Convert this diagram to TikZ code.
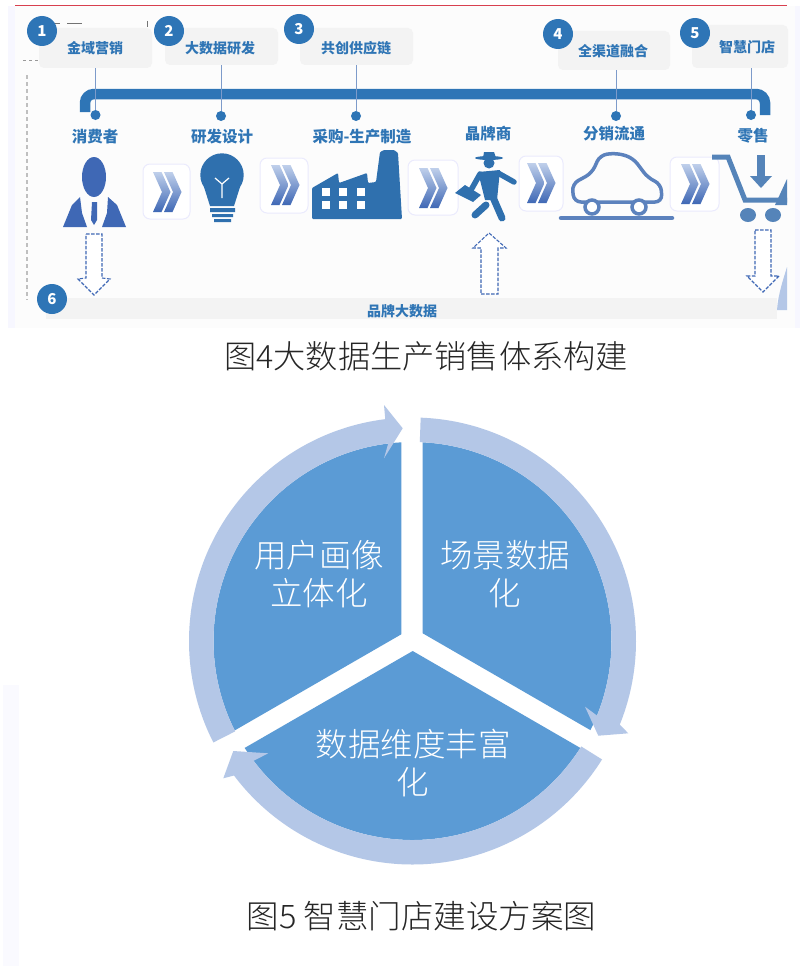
\documentclass[tikz,border=0pt]{standalone}
\usepackage{fontspec}
\setmainfont{Noto Sans CJK SC}
\newfontfamily\lightf{Noto Sans CJK SC Light}
\usetikzlibrary{calc}
\definecolor{mainblue}{HTML}{2E75B6}
\definecolor{iconblue}{HTML}{2F70AE}
\definecolor{personblue}{HTML}{3F68B5}
\definecolor{carblue}{HTML}{5C82BD}
\definecolor{cartblue}{HTML}{5584B9}
\definecolor{labelgray}{HTML}{F3F3F3}
\definecolor{sector}{HTML}{5B9BD5}
\definecolor{ringc}{HTML}{B4C7E7}
\definecolor{textblue}{HTML}{2F75B5}
\definecolor{topred}{HTML}{D8404F}
\tikzset{
  lbox/.style={fill=labelgray,rounded corners=5pt,inner sep=0pt},
  lboxtext/.style={text=textblue,font=\bfseries\fontsize{14}{14}\selectfont,inner sep=0pt},
  stagetext/.style={text=textblue,font=\bfseries\fontsize{15.5}{15.5}\selectfont,inner sep=0pt},
  numc/.style={circle,fill=mainblue,text=white,minimum size=30pt,inner sep=0pt,font=\bfseries\fontsize{15}{15}\selectfont},
  dotn/.style={circle,fill=mainblue,minimum size=10pt,inner sep=0pt},
  stem/.style={draw=carblue!80,line width=1pt},
  dasharrow/.style={draw=personblue,fill=white,line width=1.1pt,dash pattern=on 3.5pt off 1.5pt},
  chevbox/.style={draw=black!10!blue!8!white,fill=white,rounded corners=7pt,line width=1pt,inner sep=0pt},
  captiontext/.style={text=black!85,inner sep=0pt},
  sectortext/.style={text=white,align=center,inner sep=0pt,font=\lightf\fontsize{32.5}{38}\selectfont},
}
\newcommand{\chevs}[2]{%
  \begin{scope}[shift={(#1,#2)}]
    \shade[top color=ringc!85!white,bottom color=personblue] (-15,-20) -- (-6.5,-20) -- (2.5,0) -- (-6.5,20) -- (-15,20) -- (-6,0) -- cycle;
    \shade[top color=ringc!85!white,bottom color=personblue] (-4,-20) -- (4.5,-20) -- (13.5,0) -- (4.5,20) -- (-4,20) -- (5,0) -- cycle;
  \end{scope}}
\begin{document}
\begin{tikzpicture}[x=1pt,y=1pt,yscale=-1]
\useasboundingbox (0,0) rectangle (805,966);
\fill[white] (0,0) rectangle (805,966);
% panel
\fill[blue!3!white] (8,6) rectangle (800,328);
\fill[black!1!white] (15,6) rectangle (795,328);
\fill[blue!2!white] (3,685) rectangle (19,966);
\draw[topred,line width=1.3pt] (15,5.7) -- (787,5.7);
% scribbles
\draw[black!55,line width=.6pt] (30,23) -- (60,23) (67,23) -- (82,23) (147,21) -- (147,27);
\draw[black!40,line width=.8pt,dashed] (23,60) -- (38,60);
\draw[black!25,line width=1.2pt,dash pattern=on 4pt off 3pt] (27,75) -- (27,300);
% label boxes
\node[lbox,minimum width=113pt,minimum height=40pt] (b1) at (95.5,48) {};
\node[lbox,minimum width=113pt,minimum height=37pt] (b2) at (221.5,46.5) {};
\node[lbox,minimum width=113pt,minimum height=37pt] (b3) at (356.5,46.5) {};
\node[lbox,minimum width=112pt,minimum height=39pt] (b4) at (614,50.5) {};
\node[lbox,minimum width=96pt,minimum height=43pt] (b5) at (740,46.5) {};
\node[lboxtext] (t1) at (95,48) {金域营销};
\node[lboxtext] (t2) at (220,48) {大数据研发};
\node[lboxtext] (t3) at (356,48) {共创供应链};
\node[lboxtext] (t4) at (613,51) {全渠道融合};
\node[lboxtext] (t5) at (747,47) {智慧门店};
\node[numc] (n1) at (42,31) {1};
\node[numc] (n2) at (169,31) {2};
\node[numc] (n3) at (299,29) {3};
\node[numc] (n4) at (558,34) {4};
\node[numc] (n5) at (695,33) {5};
% bar
\draw[mainblue,line width=10.5pt,rounded corners=9pt] (85,112) -- (85,94) -- (765,94) -- (765,115);
\node[dotn] (d1) at (95.5,115) {};
\node[dotn] (d2) at (221,116) {};
\node[dotn] (d3) at (356,116) {};
\node[dotn] (d4) at (616,116) {};
\node[dotn] (d5) at (751,115) {};
\draw[stem] (d1) -- (d1 |- b1.south);
\draw[stem] (d2) -- (d2 |- b2.south);
\draw[stem] (d3) -- (d3 |- b3.south);
\draw[stem] (d4) -- (d4 |- b4.south);
\draw[stem] (d5) -- (d5 |- b5.south);
\node[stagetext] (s1) at (95,137) {消费者};
\node[stagetext] (s2) at (222,137) {研发设计};
\node[stagetext] (s3) at (362,137) {采购-生产制造};
\node[stagetext] (s4) at (488,134) {晶牌商};
\node[stagetext] (s5) at (614,134) {分销流通};
\node[stagetext] (s6) at (753,136) {零售};
% person
\fill[personblue] (94,177) ellipse[x radius=12,y radius=20];
\fill[personblue] (63,227) -- (72,205) -- (80,197) -- (82,213) -- (87,227) -- cycle;
\fill[personblue] (126,227) -- (117,205) -- (108,197) -- (107,213) -- (102,227) -- cycle;
\fill[personblue] (92,202) -- (97,202) -- (97,220) -- (94,225) -- (91,220) -- cycle;
% chevrons
\node[chevbox,minimum width=47pt,minimum height=55pt] (c1) at (166.5,191.5) {};
\node[chevbox,minimum width=48pt,minimum height=55pt] (c2) at (284,185.5) {};
\node[chevbox,minimum width=50pt,minimum height=55pt] (c3) at (433,187.5) {};
\node[chevbox,minimum width=44pt,minimum height=55pt] (c4) at (541,183.5) {};
\node[chevbox,minimum width=49pt,minimum height=54pt] (c5) at (694.5,184) {};
\chevs{168}{192}\chevs{286}{185}\chevs{434}{188}\chevs{542}{183}\chevs{696}{184}
% bulb
\fill[iconblue] (222,175) circle[radius=21.7];
\fill[iconblue] (204,187) -- (240,187) -- (234,206) -- (210,206) -- cycle;
\draw[white,line width=1.2pt] (222,198) -- (222,184) -- (215,178) (222,184) -- (229,178);
\fill[iconblue] (210,208) rectangle (235,212) (212,214) rectangle (233,217) (214,219) rectangle (231,222);
% factory
\fill[iconblue,rounded corners=1pt] (312,219) -- (312,188) -- (338,173) -- (339,183) -- (367,173) -- (368,183) -- (376,182) -- (380,152) -- (384,150) -- (394,150) -- (398,153) -- (402,219) -- cycle;
\foreach \px in {326,343,361}\foreach \py in {192,205}{\fill[white] (\px-4,\py-4) rectangle (\px+4,\py+4);}
% businessman
\fill[iconblue] (489,158) ellipse[x radius=14,y radius=2];
\fill[iconblue] (483,158) -- (484,152) -- (494,152) -- (496,158) -- cycle;
\fill[iconblue] (489,163) circle[radius=5.5];
\fill[iconblue] (478,172) -- (500,170) -- (497,200) -- (485,200) -- cycle;
\draw[iconblue,line width=5.5pt,line cap=round] (498,173) -- (514,182);
\draw[iconblue,line width=5.5pt,line cap=round] (480,174) -- (471,190);
\fill[iconblue] (455,193) -- (465,185) -- (481,195) -- (473,202) -- cycle;
\draw[iconblue,line width=7pt,line cap=round] (492,195) -- (502,218);
\draw[iconblue,line width=7pt,line cap=round] (486,205) -- (475,215);
% car
\draw[carblue,line width=3.5pt,rounded corners=7pt] (574,202) -- (572,184) -- (592,173) -- (600,155) -- (617,153) -- (633,158) -- (648,178) -- (661,184) -- (662,202) -- cycle;
\draw[carblue,line width=3.5pt,fill=white] (592,207) circle[radius=7];
\draw[carblue,line width=3.5pt,fill=white] (639,207) circle[radius=7];
\draw[carblue,line width=4.5pt,line cap=round] (561,218) -- (672,218);
% cart
\draw[cartblue,line width=5pt] (712,157) -- (728,157) -- (745,200) -- (787,200);
\fill[cartblue] (787,179) -- (787,205) -- (775,205) -- cycle;
\fill[cartblue] (757,155) rectangle (765,177);
\fill[cartblue] (750,176) -- (772,176) -- (761,188) -- cycle;
\fill[cartblue] (748,215) ellipse[x radius=8,y radius=7];
\fill[cartblue] (773,215) ellipse[x radius=8,y radius=7];
% bottom bar
\node[fill=labelgray,minimum width=731pt,minimum height=21pt,inner sep=0pt] (bb) at (411.5,308.5) {};
\node[lboxtext] (bbt) at (402,311.5) {品牌大数据};
\fill[ringc] (787,267) .. controls (783,280) and (778,295) .. (777,310) -- (787,310) -- cycle;
\node[numc] (n6) at (52,299) {6};
% dashed arrows
\draw[dasharrow] (86,234) -- (102,234) -- (102,278) -- (110,279) -- (94,295) -- (78,279) -- (86,278) -- cycle;
\draw[dasharrow] (481,294) -- (498,294) -- (498,248) -- (506,248) -- (489,233) -- (473,248) -- (481,248) -- cycle;
\draw[dasharrow] (755,230) -- (771,230) -- (771,276) -- (779,276) -- (763,292) -- (747,276) -- (755,276) -- cycle;
% captions
\node[captiontext,font=\lightf\fontsize{32.2}{33}\selectfont] (cap4) at (426,356) {图4大数据生产销售体系构建};
\node[captiontext,font=\lightf\fontsize{32.5}{33}\selectfont] (cap5) at (421.5,916) {图5 智慧门店建设方案图};
% sectors
\coordinate (C) at (412.5,641);
\fill[sector] (422.7,633.3) -- (422.7,442.3) arc[start angle=-87.06,end angle=26.6,radius=199] -- cycle;
\fill[sector] (401.3,634.3) -- ($(C)+(153.3:199)$) arc[start angle=153.3,end angle=266.8,radius=199] -- cycle;
\fill[sector] (412.7,651) -- ($(C)+(32.5:199)$) arc[start angle=32.5,end angle=147.5,radius=199] -- cycle;
% rings
\fill[ringc] ($(C)+(-87.9:223.5)$) arc[start angle=-87.9,end angle=22,radius=223.5] -- (628.3,733.3) -- (598.3,735.7) -- (585,706.7) -- ($(C)+(22:199)$) arc[start angle=22,end angle=-87.9,radius=199] -- cycle;
\fill[ringc] ($(C)+(32:223.5)$) arc[start angle=32,end angle=143,radius=223.5] -- (223.3,778.3) -- (233.3,751) -- (268.3,753.3) -- ($(C)+(143:199)$) arc[start angle=143,end angle=32,radius=199] -- cycle;
\fill[ringc] ($(C)+(153:223.5)$) arc[start angle=153,end angle=263,radius=223.5] -- (384,405) -- (402.7,428.3) -- (384,458.3) -- ($(C)+(263:199)$) arc[start angle=263,end angle=153,radius=199] -- cycle;
% sector text
\node[sectortext] (u) at (319,574) {用户画像\\立体化};
\node[sectortext] (v) at (505,574) {场景数据\\化};
\node[sectortext] (w) at (413,763) {数据维度丰富\\化};
\end{tikzpicture}
\end{document}
